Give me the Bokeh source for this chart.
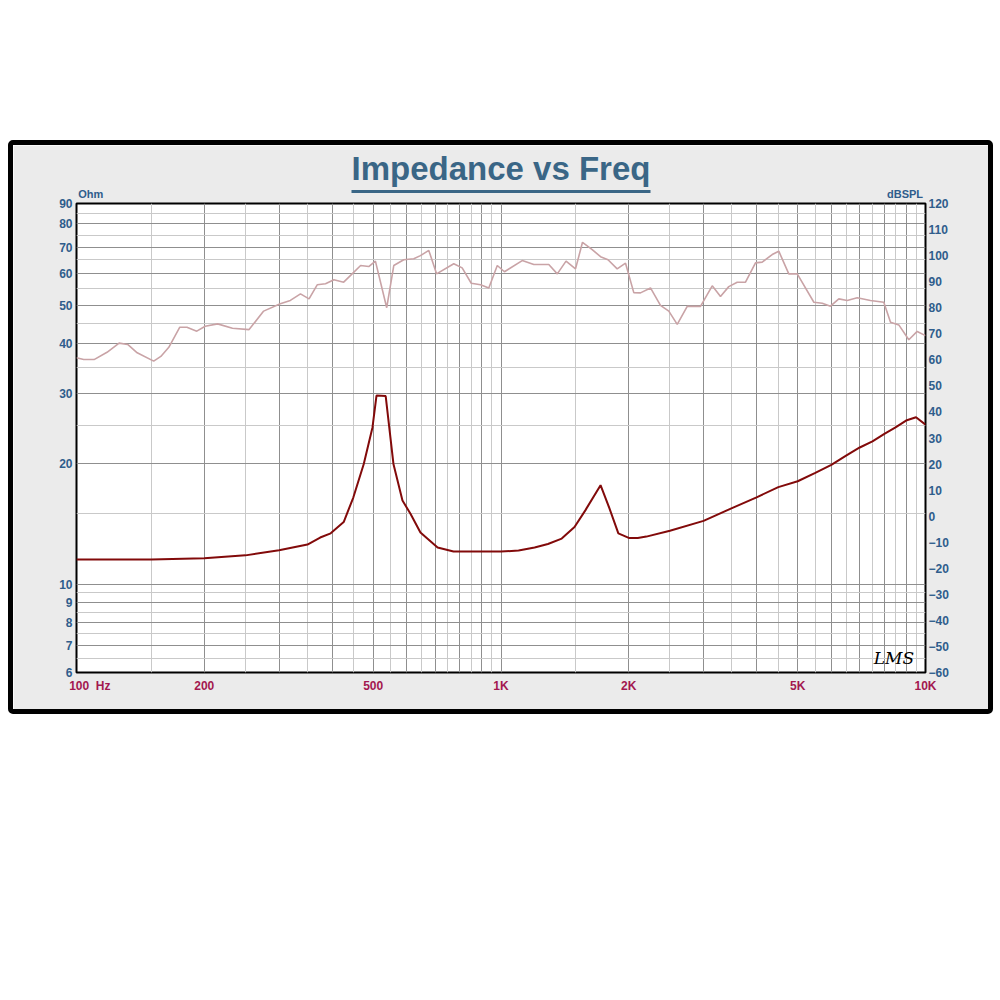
from bokeh.plotting import figure
from bokeh.models import (Range1d, LinearAxis, LogAxis, FixedTicker, Label, Spacer, LinearScale)
from bokeh.layouts import column, row
from bokeh.embed import file_html
from bokeh.resources import INLINE

# ---------------- data ----------------
imp_freq = [100, 150, 200, 250, 300, 350, 375, 397, 426, 449, 475, 498, 509, 535, 558, 586, 612,
            646, 709, 773, 929, 1000, 1100, 1200, 1290, 1390, 1490, 1580, 1716, 1800, 1890, 2000,
            2100, 2200, 2500, 3000, 3500, 4000, 4500, 5000, 5500, 6000, 6500, 7000, 7500, 8000,
            8500, 9000, 9500, 10000]
imp_ohm = [11.52, 11.52, 11.6, 11.8, 12.15, 12.56, 13.08, 13.4, 14.3, 16.5, 20.0, 24.7, 29.7, 29.6,
           20.0, 16.2, 15.0, 13.47, 12.35, 12.06, 12.06, 12.06, 12.13, 12.35, 12.6, 13.0, 13.9,
           15.3, 17.7, 15.5, 13.4, 13.05, 13.05, 13.15, 13.6, 14.4, 15.5, 16.5, 17.5, 18.1, 19.0,
           19.9, 21.0, 22.0, 22.8, 23.8, 24.7, 25.7, 26.2, 25.1]

spl_freq = [100, 104, 110, 118, 126, 132, 139, 152, 158, 165, 175, 182, 192, 201, 215, 233, 255,
            276, 302, 319, 337, 353, 369, 386, 404, 426, 446, 467, 488, 506, 538, 559, 590, 623,
            646, 676, 705, 774, 810, 851, 895, 936, 980, 1019, 1122, 1195, 1296, 1357, 1423,
            1498, 1556, 1640, 1716, 1787, 1878, 1965, 2055, 2131, 2250, 2375, 2485, 2601, 2746,
            2951, 3145, 3289, 3440, 3601, 3767, 3977, 4124, 4354, 4512, 4764, 4987, 5458, 5712,
            5973, 6249, 6540, 6904, 7419, 7975, 8272, 8652, 9135, 9559, 10000]
spl_db = [60.8, 60.1, 60.1, 62.9, 66.4, 65.9, 62.7, 59.5, 61.3, 64.8, 72.5, 72.5, 71.0, 72.9, 73.8,
          72.1, 71.6, 78.7, 81.5, 82.8, 85.3, 83.4, 88.8, 89.2, 90.7, 89.8, 93.0, 96.2, 95.8, 97.9,
          80.0, 96.2, 98.4, 98.8, 100.0, 102.0, 93.0, 96.9, 95.3, 89.4, 88.8, 87.6, 96.2, 93.8,
          98.1, 96.6, 96.6, 93.0, 97.9, 94.9, 105.1, 102.3, 99.6, 98.4, 94.9, 97.1, 85.8, 85.7,
          87.6, 80.9, 78.7, 73.6, 80.5, 80.5, 88.4, 84.3, 88.1, 89.8, 89.8, 97.2, 97.5, 100.4,
          101.7, 93.0, 93.0, 82.1, 81.7, 80.6, 83.4, 82.8, 83.8, 82.8, 82.1, 74.4, 73.4, 67.7,
          70.9, 69.3]

NB = "\u00a0"
x_tick_vals = [100, 200, 500, 1000, 2000, 5000, 10000]
x_tick_text = [NB * 8 + "100" + NB * 2 + "Hz", "200", "500", "1K", "2K", "5K", "10K"]
x_grid_major = [100, 200, 300, 400, 500, 600, 700, 800, 900, 1000, 2000, 3000, 4000, 5000,
                6000, 7000, 8000, 9000, 10000]
x_grid_minor = [150, 250, 350, 450, 550, 650, 750, 850, 950, 1500, 2500, 3500, 4500, 5500,
                6500, 7500, 8500, 9500]
ohm_ticks = [6, 7, 8, 9, 10, 20, 30, 40, 50, 60, 70, 80, 90]
ohm_minor = [6.5, 7.5, 8.5, 9.5, 15, 25, 35, 45, 55, 65, 75, 85]
db_ticks = list(range(-60, 121, 10))
unit_pos = [108, 8950]
unit_text = ["Ohm", "dBSPL"]
underline_bounds = (444, 2250)

# ---------------- styling ----------------
FONT = "Liberation Sans"
BLUE = "#2f5d8c"
MAROON = "#a3184f"
TITLE_C = "#3a6686"
BG = "#ebebeb"

p = figure(width=985, height=574, x_axis_type="log", y_axis_type="log",
           x_range=Range1d(100, 10000), y_range=Range1d(6, 90),
           output_backend="svg", toolbar_location=None,
           background_fill_color="white", border_fill_color=BG,
           min_border_left=63, min_border_right=73, min_border_top=58, min_border_bottom=47)
p.styles = {"border": "5px solid black", "border-radius": "5px"}
p.extra_y_ranges = {"db": Range1d(-60, 120)}
p.extra_y_scales = {"db": LinearScale()}

p.outline_line_color = "black"
p.outline_line_width = 2

# title
p.title.text = "Impedance vs Freq"
p.title.align = "center"
p.title.text_font = FONT
p.title.text_font_size = "33px"
p.title.text_font_style = "bold"
p.title.text_color = TITLE_C
p.title.standoff = -4


def style_axis(ax, color, size="12px", standoff=4):
    ax.axis_line_color = None
    ax.major_tick_line_color = None
    ax.minor_tick_line_color = None
    ax.major_tick_out = 0
    ax.minor_tick_out = 0
    ax.major_tick_in = 0
    ax.minor_tick_in = 0
    ax.major_label_text_font = FONT
    ax.major_label_text_font_size = size
    ax.major_label_text_font_style = "bold"
    ax.major_label_text_color = color
    ax.major_label_standoff = standoff


# x axis
xa = p.xaxis[0]
xa.ticker = FixedTicker(ticks=x_tick_vals, minor_ticks=[])
xa.major_label_overrides = {v: t for v, t in zip(x_tick_vals, x_tick_text)}
style_axis(xa, MAROON, standoff=6)

# left axis
ya = p.yaxis[0]
ya.ticker = FixedTicker(ticks=ohm_ticks, minor_ticks=[])
ya.major_label_overrides = {v: str(v) for v in ohm_ticks}
style_axis(ya, BLUE, standoff=4)

# right axis
ra = LinearAxis(y_range_name="db", ticker=FixedTicker(ticks=db_ticks, minor_ticks=[]))
style_axis(ra, BLUE, standoff=3)
p.add_layout(ra, "right")

# top panel 1: empty spacer axis (reserves room between frame and underline)
sp = LogAxis(ticker=FixedTicker(ticks=[1000], minor_ticks=[]))
sp.major_label_overrides = {1000: "."}
style_axis(sp, BG, size="2px", standoff=8)
p.add_layout(sp, "above")

# top panel 2: title underline (axis line limited by bounds)
ul = LogAxis(ticker=FixedTicker(ticks=[], minor_ticks=[]), bounds=underline_bounds)
style_axis(ul, BLUE, size="1px", standoff=0)
ul.axis_line_color = TITLE_C
ul.axis_line_width = 3
p.add_layout(ul, "above")

# top panel 3: unit labels, pulled down next to the frame
ua = LogAxis(ticker=FixedTicker(ticks=unit_pos, minor_ticks=[]))
ua.major_label_overrides = {v: t for v, t in zip(unit_pos, unit_text)}
style_axis(ua, BLUE, size="11px", standoff=-8)
p.add_layout(ua, "above")

# grids
p.xgrid.ticker = FixedTicker(ticks=x_grid_major, minor_ticks=x_grid_minor)
p.xgrid.grid_line_color = "#8f8f8f"
p.xgrid.minor_grid_line_color = "#c9c9c9"
p.ygrid.ticker = FixedTicker(ticks=ohm_ticks, minor_ticks=ohm_minor)
p.ygrid.grid_line_color = "#8f8f8f"
p.ygrid.minor_grid_line_color = "#c9c9c9"

# curves
p.line(spl_freq, spl_db, y_range_name="db", line_color="#c9a3a6", line_width=1.6)
p.line(imp_freq, imp_ohm, line_color="#820a0a", line_width=2)

# logo
p.add_layout(Label(x=7550, y=6.15, text="LMS", text_baseline="bottom", text_font="DejaVu Serif",
                   text_font_size="17px", text_font_style="italic", text_color="black"))

layout = column(Spacer(width=985, height=140), row(Spacer(width=8, height=10), p))
open("out.html", "w").write(file_html(layout, INLINE))
